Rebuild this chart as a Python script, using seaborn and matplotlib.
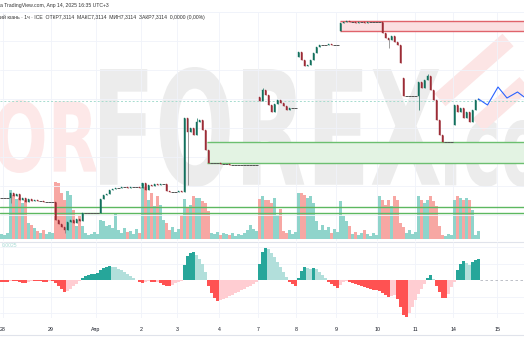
import numpy as np
import pandas as pd
import matplotlib
matplotlib.use("Agg")
import matplotlib.pyplot as plt
import seaborn as sns
from matplotlib.textpath import TextPath
from matplotlib.patches import PathPatch, Rectangle
from matplotlib.font_manager import FontProperties
from matplotlib.transforms import Affine2D
from matplotlib.lines import Line2D

# ---------------- data ----------------
closes = [
    7.2624, 7.2624, 7.2624, 7.2649, 7.2634, 7.2644, 7.2614, 7.2624, 7.2604, 7.2619,
    7.2609, 7.2614, 7.2609, 7.2609, 7.2604, 7.2604, 7.2604, 7.2604, 7.2514, 7.2494,
    7.2479, 7.2464, 7.2504, 7.2514, 7.2499, 7.2519, 7.2509, 7.2549, 7.2549, 7.2549,
    7.2549, 7.2549, 7.2549, 7.2619, 7.2639, 7.2644, 7.2664, 7.2669, 7.2674, 7.2674,
    7.2679, 7.2679, 7.2674, 7.2679, 7.2679, 7.2679, 7.2674, 7.2699, 7.2664, 7.2689,
    7.2684, 7.2694, 7.2689, 7.2694, 7.2694, 7.2659, 7.2654, 7.2654, 7.2654, 7.2659,
    7.2654, 7.3024, 7.2954, 7.2974, 7.2939, 7.3004, 7.3014, 7.2964, 7.2864, 7.2799,
    7.2799, 7.2799, 7.2799, 7.2794, 7.2794, 7.2794, 7.2789, 7.2789, 7.2789, 7.2789,
    7.2789, 7.2789, 7.2789, 7.2789, 7.2789, 7.2789, 7.3109, 7.3164, 7.3139, 7.3089,
    7.3054, 7.3094, 7.3114, 7.3099, 7.3084, 7.3064, 7.3074, 7.3074, 7.3074, 7.3354,
    7.3314, 7.3284, 7.3289, 7.3314, 7.3349, 7.3379, 7.3389, 7.3389, 7.3389, 7.3394,
    7.3389, 7.3389, 7.3389, 7.3499, 7.3504, 7.3509, 7.3504, 7.3504, 7.3499, 7.3504,
    7.3504, 7.3499, 7.3504, 7.3504, 7.3504, 7.3504, 7.3504, 7.3449, 7.3424, 7.3414,
    7.3434, 7.3404, 7.3389, 7.3299, 7.3134, 7.3134, 7.3134, 7.3134, 7.3134, 7.3204,
    7.3174, 7.3214, 7.3234, 7.3164, 7.3114, 7.3014, 7.2939, 7.2904, 7.2904, 7.2904,
    7.2904, 7.3089, 7.3054, 7.3074, 7.3024, 7.3054, 7.3004, 7.3064, 7.3114, 7.3119,
]
gap_opens = {86: 7.3129, 99: 7.3329, 113: 7.3459, 134: 7.3224, 151: 7.2989}
wick_lows = {3: 7.2599, 21: 7.2449, 62: 7.2689, 129: 7.3374, 139: 7.3064}
wick_highs = {87: 7.3174, 142: 7.3244, 65: 7.3024}

volume = [
    5, 4, 6, 49, 44, 40, 41, 36, 39, 16,
    14, 11, 8, 6, 9, 5, 7, 6, 57, 56,
    46, 39, 48, 44, 29, 13, 23, 13, 6, 4,
    5, 7, 5, 19, 18, 13, 14, 11, 26, 9,
    6, 11, 7, 8, 5, 10, 6, 56, 53, 39,
    46, 33, 43, 34, 19, 16, 9, 12, 7, 10,
    24, 40, 31, 34, 43, 41, 41, 38, 36, 28,
    6, 5, 7, 4, 6, 5, 4, 6, 3, 5,
    4, 6, 9, 14, 10, 8, 40, 43, 39, 39,
    36, 41, 24, 30, 8, 6, 9, 5, 7, 46,
    46, 44, 41, 43, 36, 18, 9, 14, 9, 12,
    6, 10, 7, 38, 23, 18, 13, 5, 7, 4,
    6, 9, 5, 3, 6, 4, 43, 39, 34, 39,
    33, 43, 39, 16, 12, 6, 9, 5, 7, 43,
    39, 36, 39, 43, 38, 33, 13, 4, 3, 5,
    4, 39, 43, 41, 39, 41, 39, 29, 4, 8,
]

hist = [
    -2, -2, -2, -1, -1, -1, -2, -3, -3, -2,
    -1, -1, -1, -1, -2, -2, -1, -1, -3, -6,
    -9, -12, -11, -9, -6, -4, -1, 2, 4, 5,
    6, 6.5, 7, 10, 12, 13, 14, 13.5, 13, 11.5,
    10, 8, 6, 4, 2, 0.5, -2, -3, -2, -1,
    -2, -2, -1.5, -3, -4.5, -5.5, -6, -5, -3, -2,
    -1, 15, 24, 27, 28, 25, 21, 16, 8, -6,
    -13, -18, -21, -20, -19, -17.5, -16, -14.5, -13, -11.5,
    -10, -8.5, -7, -5.5, -4, -2, 16, 28, 32, 31,
    27, 23, 18, 13, 8, 3, -2, -4, -6, 2,
    9, 13, 12, 11.5, 12, 11, 8, 5, 2, -2,
    -4, -6, -8, -5, -2, -1, -2, -3, -4, -5,
    -6, -7, -8, -9, -9.5, -10, -11, -13, -15, -17,
    -16, -15, -19, -27, -35, -37, -33, -27, -20, -14,
    -9, -4, 2, 5, 1, -6, -12, -18, -18, -14,
    -7, -2, 10, 16, 19, 17, 15, 18, 20, 21,
]

day_pos = [0.5, 16.5, 31.5, 46.5, 58.5, 72.5, 85.5, 98.2, 111.5, 125.2, 137.8, 150.5, 165.2]
day_labels = ["28", "29", "Апр", "2", "3", "4", "7", "8", "9", "10", "11", "14", "15"]

forecast_x = [159, 162, 165.5, 168.5, 172, 174.2]
forecast_y = [7.3119, 7.3089, 7.3179, 7.3124, 7.3154, 7.3129]

red_zone = (112.8, 7.3459, 7.3509)
green_zone = (68.5, 7.2799, 7.2904)
support_lines = [7.2579, 7.2549]
last_price = 7.3109
grid_levels = [7.3554, 7.3409, 7.3264, 7.3119, 7.2974, 7.2829, 7.2684, 7.2539]

header1 = "а TradingView.com, Апр 14, 2025 16:35 UTC+3"
header2 = "ий юань · 1ч · ICE  ОТКР7,3114  МАКС7,3114  МИН7,3114  ЗАКР7,3114  0,0000 (0,00%)"
osc_label = "0.0025"

# ---------------- derived ----------------
n = len(closes)
idx = np.arange(n)
opens = [gap_opens.get(i, closes[i - 1] if i > 0 else closes[0]) for i in range(n)]
highs = [wick_highs.get(i, max(o, c)) for i, (o, c) in enumerate(zip(opens, closes))]
lows = [wick_lows.get(i, min(o, c)) for i, (o, c) in enumerate(zip(opens, closes))]

# ---------------- style ----------------
sns.set_theme(style="white")
plt.rcParams["font.family"] = ["Liberation Sans", "DejaVu Sans"]

W, H = 524, 350
fig = plt.figure(figsize=(W / 100, H / 100), dpi=100, facecolor="white")
XMIN, XMAX = -0.5, -0.5 + W / 3.0


def fy(px):
    return 1 - px / H


# background watermark
bg = fig.add_axes([0, 0, 1, 1], zorder=0)
bg.set_xlim(0, W)
bg.set_ylim(0, H)
bg.axis("off")


def stamp(s, x0, ytop, ybot, color, width=None, xscale=None):
    fp = FontProperties(family="DejaVu Sans", weight="bold")
    tp = TextPath((0, 0), s, size=100, prop=fp)
    bb = tp.get_extents()
    sy = (ybot - ytop) / bb.height
    sx = width / bb.width if width else sy * xscale
    tr = Affine2D().translate(-bb.x0, -bb.y0).scale(sx, sy).translate(x0, H - ybot)
    bg.add_patch(PathPatch(tr.transform_path(tp), facecolor=color, edgecolor="none"))


stamp("OR", -5, 100, 173, "#fde8e8", width=102)
stamp("FOREX", 100, 67, 187, "#ececec", width=340)
stamp(".com", 445, 120, 187, "#ececec", xscale=0.55)
bg.plot([440, 508], [H - 100, H - 40], color="#fce5e5", lw=12, solid_capstyle="butt")
bg.plot([478, 540], [H - 125, H - 70], color="#fce5e5", lw=12, solid_capstyle="butt")

# volume axes (behind candles)
axv = fig.add_axes([0, fy(241), 1, 229 / H], zorder=1)
axv.patch.set_visible(False)
vol_kind = ["dn" if c < o else "up" for o, c in zip(opens, closes)]
dfv = pd.DataFrame({"i": idx, "vol": volume, "kind": vol_kind})
sns.barplot(data=dfv, x="i", y="vol", hue="kind", palette={"up": "#8fd4cb", "dn": "#f7a7a3"},
            native_scale=True, dodge=False, legend=False, errorbar=None, saturation=1,
            width=0.8, ax=axv, linewidth=0)
axv.set_ylim(-2, 227)
axv.set_xlim(XMIN, XMAX)
for p in day_pos:
    axv.axvline(p, color="#f0f3fa", lw=0.6, zorder=0)
axv.axis("off")

# main price axes
ax = fig.add_axes([0, fy(241), 1, 229 / H], zorder=2)
ax.patch.set_visible(False)
ax.set_xlim(XMIN, XMAX)
ax.set_ylim(7.2409, 7.3554)
for g in grid_levels:
    ax.axhline(g, color="#f0f3fa", lw=0.6, zorder=0)

# zones
ax.add_patch(Rectangle((green_zone[0], green_zone[1]), XMAX - green_zone[0],
                       green_zone[2] - green_zone[1], facecolor="#e3f3e3", edgecolor="none", zorder=1))
ax.hlines([green_zone[1], green_zone[2]], green_zone[0], XMAX, color="#6cbf70", lw=1.0, zorder=2)
ax.add_patch(Rectangle((red_zone[0], red_zone[1]), XMAX - red_zone[0],
                       red_zone[2] - red_zone[1], facecolor="#fbdfe1", edgecolor="none", zorder=1))
ax.hlines([red_zone[1], red_zone[2]], red_zone[0], XMAX, color="#e0636b", lw=1.0, zorder=2)
for s in support_lines:
    ax.axhline(s, color="#5cb860", lw=1.0, zorder=2)
ax.axhline(last_price, color="#a6dccf", lw=0.7, ls=(0, (2, 2)), zorder=2)

# candles
up_c, dn_c, flat_c = "#12705d", "#9c2c36", "#555555"
for i in range(n):
    o, c, h, l = opens[i], closes[i], highs[i], lows[i]
    if abs(c - o) < 1e-9:
        ax.hlines(c, i - 0.45, i + 0.45, color=flat_c, lw=0.7, zorder=4)
        if h > c or l < c:
            ax.vlines(i, l, h, color=flat_c, lw=0.5, zorder=3)
        continue
    col = up_c if c > o else dn_c
    ax.vlines(i, l, h, color="#777777" if (h - l) > abs(c - o) * 2 else col, lw=0.5, zorder=3)
    ax.bar(i, abs(c - o), bottom=min(o, c), width=0.65, color=col, edgecolor=col, lw=0.3, zorder=4)

sns.lineplot(x=forecast_x, y=forecast_y, ax=ax, color="#2962ff", lw=0.8, zorder=5)
ax.set_xlim(XMIN, XMAX)
ax.set_ylim(7.2409, 7.3554)
ax.axis("off")

# oscillator axes
axo = fig.add_axes([0, fy(318), 1, 76 / H], zorder=2)
axo.patch.set_visible(False)
kinds = []
for i, v in enumerate(hist):
    prev = hist[i - 1] if i > 0 else v
    if v >= 0:
        kinds.append("pos_up" if v >= prev else "pos_dn")
    else:
        kinds.append("neg_dn" if v <= prev else "neg_up")
dfo = pd.DataFrame({"i": idx, "h": hist, "kind": kinds})
for gl in [33, 16.5, -16.5, -33]:
    axo.axhline(gl, color="#f0f3fa", lw=0.6, zorder=0)
for p in day_pos:
    axo.axvline(p, color="#f0f3fa", lw=0.6, zorder=0)
sns.barplot(data=dfo, x="i", y="h", hue="kind",
            palette={"pos_up": "#26a69a", "pos_dn": "#b2dfdb", "neg_dn": "#ff5252", "neg_up": "#ffcdd2"},
            native_scale=True, dodge=False, legend=False, errorbar=None, saturation=1,
            width=0.8, ax=axo, linewidth=0)
axo.hlines(0, n - 0.5, XMAX, color="#b2b5be", lw=0.6, ls=(0, (3, 3)))
axo.set_xlim(XMIN, XMAX)
axo.set_ylim(-38, 38)
axo.text(0.0, 34.5, osc_label, fontsize=3.6, color="#a6d9d3", va="center", ha="left")
for sp in axo.spines.values():
    sp.set_visible(False)
axo.set_yticks([])
axo.set_xticks(day_pos)
axo.set_xticklabels(day_labels, fontsize=3.8, color="#131722")
axo.tick_params(axis="x", length=0, pad=6.5)
axo.set_xlabel("")
axo.set_ylabel("")

# separators
fig.add_artist(Line2D([0, 1], [fy(241.5)] * 2, color="#e0e3eb", lw=0.8))
fig.add_artist(Line2D([0, 1], [fy(335)] * 2, color="#e0e3eb", lw=0.8))
fig.add_artist(Line2D([0, 1], [fy(12)] * 2, color="#f0f3fa", lw=0.6))

# header
fig.text(0, fy(5), header1, fontsize=3.7, color="#333333", va="center", ha="left")
fig.text(0, fy(17.5), header2, fontsize=3.7, color="#333333", va="center", ha="left")

fig.savefig("out.png", dpi=100, facecolor="white")
